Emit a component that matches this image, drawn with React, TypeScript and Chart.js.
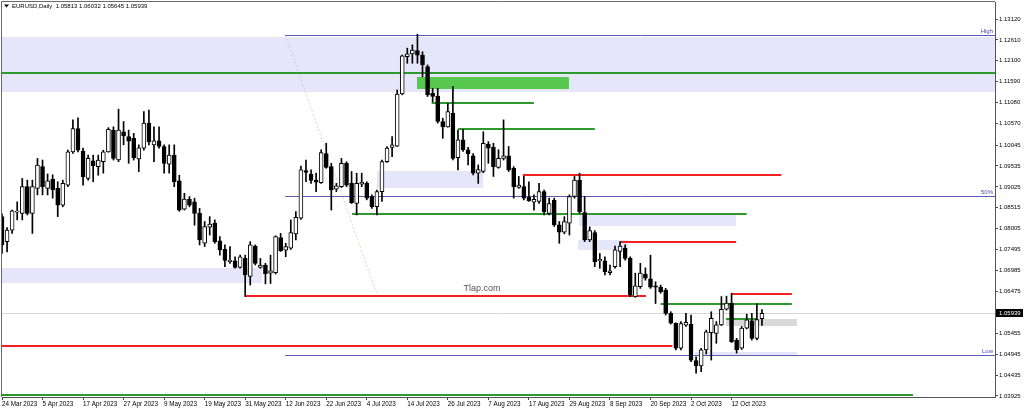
import React, { useEffect, useRef } from 'react';
import { Chart, registerables } from 'chart.js';

Chart.register(...registerables);

// ---- Daily EURUSD bars, 24 Mar 2023 .. 20 Oct 2023 (index 0..150) ----
const opens = [
  1.0830, 1.0769, 1.0797, 1.0841, 1.0838, 1.0903, 1.0838, 1.0899, 1.0952, 1.0899,
  1.0921, 1.0899, 1.0858, 1.0907, 1.0988, 1.1045, 1.0990, 1.0923, 1.0966, 1.0952,
  1.0964, 1.0988, 1.1041, 1.0968, 1.1037, 1.1025, 1.1021, 1.0971, 1.0997, 1.1058,
  1.1005, 1.1015, 1.1001, 1.0958, 1.0980, 1.0917, 1.0848, 1.0872, 1.0866, 1.0838,
  1.0765, 1.0804, 1.0814, 1.0771, 1.0750, 1.0720, 1.0722, 1.0706, 1.0728, 1.0684,
  1.0758, 1.0706, 1.0712, 1.0692, 1.0693, 1.0779, 1.0748, 1.0753, 1.0788, 1.0826,
  1.0942, 1.0934, 1.0919, 1.0913, 1.0984, 1.0952, 1.0897, 1.0903, 1.0960, 1.0911,
  1.0862, 1.0909, 1.0911, 1.0879, 1.0854, 1.0891, 1.0964, 1.0999, 1.1002, 1.1129,
  1.1220, 1.1227, 1.1235, 1.1224, 1.1196, 1.1131, 1.1124, 1.1062, 1.1049, 1.1082,
  1.0974, 1.1017, 1.0993, 1.0978, 1.0936, 1.0940, 1.1007, 1.0999, 1.0950, 1.0972,
  1.0978, 1.0948, 1.0901, 1.0903, 1.0877, 1.0865, 1.0867, 1.0891, 1.0838, 1.0870,
  1.0810, 1.0792, 1.0814, 1.0879, 1.0919, 1.0840, 1.0773, 1.0791, 1.0722, 1.0722,
  1.0693, 1.0708, 1.0745, 1.0753, 1.0728, 1.0635, 1.0659, 1.0690, 1.0678, 1.0661,
  1.0658, 1.0651, 1.0594, 1.0570, 1.0509, 1.0565, 1.0567, 1.0479, 1.0466, 1.0505,
  1.0547, 1.0545, 1.0566, 1.0604, 1.0619, 1.0529, 1.0509, 1.0558, 1.0576, 1.0533,
  1.05813,
];
const highs = [
  1.0837, 1.0803, 1.0846, 1.0866, 1.0923, 1.0919, 1.0919, 1.0972, 1.0968, 1.0934,
  1.0932, 1.0915, 1.0919, 1.0992, 1.1066, 1.1071, 1.0997, 1.0980, 1.0980, 1.0980,
  1.0992, 1.1047, 1.1049, 1.1092, 1.1062, 1.1041, 1.1033, 1.1005, 1.1086, 1.1090,
  1.1049, 1.1049, 1.1005, 1.1005, 1.1005, 1.0931, 1.0887, 1.0879, 1.0875, 1.0850,
  1.0818, 1.0830, 1.0822, 1.0781, 1.0761, 1.0757, 1.0732, 1.0736, 1.0736, 1.0769,
  1.0761, 1.0728, 1.0716, 1.0736, 1.0783, 1.0789, 1.0765, 1.0822, 1.0842, 1.0953,
  1.0968, 1.0944, 1.0936, 1.0993, 1.1009, 1.0960, 1.0911, 1.0972, 1.0964, 1.0940,
  1.0936, 1.0936, 1.0915, 1.0883, 1.0895, 1.0968, 1.1001, 1.1025, 1.1139, 1.1224,
  1.1241, 1.1249, 1.1275, 1.1232, 1.1200, 1.1143, 1.1143, 1.1070, 1.1106, 1.1147,
  1.1041, 1.1043, 1.0999, 1.0984, 1.0956, 1.1037, 1.1013, 1.1009, 1.0993, 1.1066,
  1.1001, 1.0952, 1.0928, 1.0928, 1.0915, 1.0883, 1.0911, 1.0895, 1.0875, 1.0875,
  1.0818, 1.0830, 1.0883, 1.0928, 1.0936, 1.0879, 1.0805, 1.0796, 1.0740, 1.0732,
  1.0712, 1.0758, 1.0769, 1.0761, 1.0732, 1.0692, 1.0716, 1.0705, 1.0736, 1.0671,
  1.0663, 1.0655, 1.0598, 1.0571, 1.0574, 1.0594, 1.0590, 1.0488, 1.0509, 1.0553,
  1.0598, 1.0574, 1.0635, 1.0636, 1.0643, 1.0533, 1.0562, 1.0592, 1.0594, 1.0617,
  1.06032,
];
const lows = [
  1.0740, 1.0744, 1.0789, 1.0822, 1.0822, 1.0834, 1.0789, 1.0883, 1.0883, 1.0883,
  1.0875, 1.0830, 1.0854, 1.0903, 1.0984, 1.0988, 1.0907, 1.0919, 1.0915, 1.0931,
  1.0936, 1.0987, 1.0968, 1.0964, 1.1005, 1.0960, 1.0968, 1.0940, 1.0992, 1.1005,
  1.0964, 1.0997, 1.0936, 1.0936, 1.0903, 1.0843, 1.0846, 1.0854, 1.0809, 1.0761,
  1.0757, 1.0785, 1.0765, 1.0736, 1.0708, 1.0716, 1.0704, 1.0704, 1.0635, 1.0663,
  1.0712, 1.0704, 1.0666, 1.0667, 1.0690, 1.0745, 1.0732, 1.0750, 1.0773, 1.0823,
  1.0915, 1.0911, 1.0891, 1.0911, 1.0948, 1.0846, 1.0891, 1.0901, 1.0903, 1.0862,
  1.0834, 1.0903, 1.0871, 1.0850, 1.0834, 1.0867, 1.0962, 1.0976, 1.1001, 1.1127,
  1.1204, 1.1204, 1.1204, 1.1171, 1.1123, 1.1110, 1.1058, 1.1021, 1.1048, 1.0968,
  1.0944, 1.0989, 1.0956, 1.0932, 1.0911, 1.0937, 1.0960, 1.0928, 1.0948, 1.0968,
  1.0940, 1.0875, 1.0899, 1.0871, 1.0867, 1.0846, 1.0862, 1.0834, 1.0834, 1.0806,
  1.0765, 1.0788, 1.0785, 1.0875, 1.0838, 1.0769, 1.0769, 1.0708, 1.0704, 1.0688,
  1.0688, 1.0704, 1.0708, 1.0724, 1.0635, 1.0633, 1.0655, 1.0675, 1.0655, 1.0618,
  1.0643, 1.0590, 1.0568, 1.0505, 1.0505, 1.0562, 1.0476, 1.0448, 1.0452, 1.0495,
  1.0480, 1.0521, 1.0564, 1.0602, 1.0523, 1.0497, 1.0506, 1.0556, 1.0529, 1.0529,
  1.05645,
];
const closes = [
  1.0761, 1.0797, 1.0844, 1.0843, 1.0903, 1.0838, 1.0903, 1.0956, 1.0903, 1.0917,
  1.0895, 1.0858, 1.0911, 1.0988, 1.1045, 1.0992, 1.0927, 1.0972, 1.0954, 1.0968,
  1.0988, 1.1043, 1.0972, 1.1041, 1.1027, 1.1014, 1.0974, 1.0998, 1.1058, 1.1013,
  1.1015, 1.1001, 1.0960, 1.0980, 1.0915, 1.0846, 1.0873, 1.0858, 1.0838, 1.0773,
  1.0806, 1.0812, 1.0769, 1.0749, 1.0723, 1.0724, 1.0706, 1.0732, 1.0688, 1.0761,
  1.0716, 1.0712, 1.0690, 1.0698, 1.0781, 1.0747, 1.0757, 1.0791, 1.0828, 1.0944,
  1.0938, 1.0918, 1.0914, 1.0986, 1.0950, 1.0895, 1.0905, 1.0960, 1.0907, 1.0864,
  1.0911, 1.0914, 1.0875, 1.0854, 1.0891, 1.0964, 1.0997, 1.1005, 1.1129, 1.1222,
  1.1227, 1.1236, 1.1224, 1.1200, 1.1127, 1.1123, 1.1062, 1.1049, 1.1086, 1.0972,
  1.1017, 1.0993, 1.0983, 1.0936, 1.0945, 1.1009, 1.0997, 1.0952, 1.0972, 1.0978,
  1.0944, 1.0903, 1.0907, 1.0875, 1.0869, 1.0872, 1.0891, 1.0842, 1.0862, 1.0810,
  1.0792, 1.0818, 1.0879, 1.0919, 1.0842, 1.0773, 1.0796, 1.0720, 1.0726, 1.0696,
  1.0698, 1.0749, 1.0758, 1.0728, 1.0639, 1.0661, 1.0692, 1.0680, 1.0658, 1.0658,
  1.0647, 1.0594, 1.0570, 1.0509, 1.0569, 1.0572, 1.0480, 1.0466, 1.0505, 1.0549,
  1.0582, 1.0566, 1.0604, 1.0619, 1.0525, 1.0505, 1.0558, 1.0578, 1.0533, 1.0579,
  1.05939,
];

// ---- axes ----
const dateTickBars = [0, 8, 16, 24, 32, 40, 48, 56, 64, 72, 80, 88, 96, 104, 112, 120, 128, 136, 144];
const dateLabels = [
  '24 Mar 2023', '5 Apr 2023', '17 Apr 2023', '27 Apr 2023', '9 May 2023', '19 May 2023',
  '31 May 2023', '12 Jun 2023', '22 Jun 2023', '4 Jul 2023', '14 Jul 2023', '26 Jul 2023',
  '7 Aug 2023', '17 Aug 2023', '29 Aug 2023', '8 Sep 2023', '20 Sep 2023', '2 Oct 2023',
  '12 Oct 2023',
];
const priceTicks = [
  1.1312, 1.1261, 1.121, 1.1159, 1.1108, 1.1057, 1.10045, 1.09535, 1.09025, 1.08515,
  1.08005, 1.07495, 1.06985, 1.06475, 1.05455, 1.04945, 1.04435, 1.03925,
];
const lastPrice = 1.05939;
const headerText = 'EURUSD,Daily  1.05813 1.06032 1.05645 1.05939';
const watermark = 'Tlap.com';

// ---- drawn objects: [fromBar, toBar, upperPrice, lowerPrice] ----
const lavenderZones = [
  [-1, 197, 1.1268, 1.1135],
  [-1, 51.3, 1.0705, 1.0667],
  [74, 95, 1.0942, 1.0901],
  [113.9, 144.9, 1.0834, 1.0807],
  [113.7, 123.6, 1.0773, 1.0749],
  [136.8, 156.9, 1.05, 1.0492],
];
const grayZones = [[142.9, 156.9, 1.0581, 1.0562]];
const greenZones = [[81.9, 111.9, 1.1171, 1.1141]];
// [fromBar, toBar, price]
const greenLines = [
  [-1, 197, 1.1181],
  [84.8, 105, 1.1106],
  [90, 117, 1.1044],
  [69.1, 147, 1.0836],
  [130, 155.9, 1.0616],
  [142.9, 149, 1.058],
  [-1, 179.8, 1.0396],
];
const redLines = [
  [102.8, 153.8, 1.0932],
  [122, 144.9, 1.0769],
  [48, 127.1, 1.0636],
  [-1, 132.3, 1.0514],
  [143.9, 155.9, 1.0641],
];
const fiboNames = ['High', '50%', 'Low'];
const fiboPrices = [1.1273, 1.088, 1.0492];
const fiboFromBar = 55.9;
const fiboDiagonal = [[55.9, 1.1273], [74.2, 1.0634]];

const X_MIN = 0;
const X_MAX = 196;
const Y_MAX = 1.13535;
const Y_MIN = 1.039;
const FONT = '"Liberation Sans", Arial, sans-serif';

const overlayPlugin = {
  id: 'mtOverlay',
  beforeDatasetsDraw(chart: any) {
    const { ctx, chartArea: a, scales } = chart;
    const px = (b: number) => scales.x.getPixelForValue(b);
    const py = (p: number) => scales.y.getPixelForValue(p);
    ctx.save();
    ctx.beginPath();
    ctx.rect(a.left, a.top, a.right - a.left, a.bottom - a.top);
    ctx.clip();
    const zone = (z: number[], color: string) => {
      const x1 = px(z[0]);
      const x2 = px(z[1]);
      const y1 = Math.round(py(z[2]));
      const y2 = Math.round(py(z[3]));
      ctx.fillStyle = color;
      ctx.fillRect(x1, y1, x2 - x1, Math.max(1, y2 - y1));
    };
    lavenderZones.forEach((z) => zone(z, '#e6e6fa'));
    grayZones.forEach((z) => zone(z, '#d9d9d9'));
    greenZones.forEach((z) => zone(z, '#57c84d'));

    const hline = (s: number, e: number, p: number, color: string, w: number) => {
      const y = Math.round(py(p)) + (w % 2 === 1 ? 0.5 : 0);
      ctx.strokeStyle = color;
      ctx.lineWidth = w;
      ctx.beginPath();
      ctx.moveTo(px(s), y);
      ctx.lineTo(px(e), y);
      ctx.stroke();
    };
    hline(-1, 197, lastPrice, '#d6d6d6', 1);

    // fibo diagonal
    ctx.save();
    ctx.setLineDash([2, 2]);
    ctx.strokeStyle = 'rgba(240,150,150,0.55)';
    ctx.lineWidth = 1;
    ctx.beginPath();
    ctx.moveTo(px(fiboDiagonal[0][0]), py(fiboDiagonal[0][1]));
    ctx.lineTo(px(fiboDiagonal[1][0]), py(fiboDiagonal[1][1]));
    ctx.stroke();
    ctx.restore();

    fiboPrices.forEach((p) => hline(fiboFromBar, 197, p, '#5c5cb4', 1));
    greenLines.forEach((l) => hline(l[0], l[1], l[2], '#2e9a2e', 2));
    redLines.forEach((l) => hline(l[0], l[1], l[2], '#f22020', 2));
    ctx.restore();
  },
  afterDraw(chart: any) {
    const { ctx, chartArea: a, scales } = chart;
    const py = (p: number) => scales.y.getPixelForValue(p);
    ctx.save();
    // frame
    ctx.strokeStyle = '#6a6a6a';
    ctx.lineWidth = 1;
    ctx.beginPath();
    ctx.moveTo(a.left - 0.5, a.bottom);
    ctx.lineTo(a.left - 0.5, a.top - 0.5);
    ctx.lineTo(a.right, a.top - 0.5);
    ctx.stroke();

    // header
    ctx.fillStyle = '#000';
    ctx.beginPath();
    ctx.moveTo(4, 4.5);
    ctx.lineTo(9, 4.5);
    ctx.lineTo(6.5, 7.5);
    ctx.closePath();
    ctx.fill();
    ctx.font = `6px ${FONT}`;
    ctx.textBaseline = 'middle';
    ctx.textAlign = 'left';
    ctx.fillText(headerText, 12, 6.5);

    // watermark
    ctx.font = `9px ${FONT}`;
    ctx.fillStyle = '#555';
    ctx.textAlign = 'center';
    ctx.fillText(watermark, 482, 289);

    // fibo labels
    ctx.font = `6px ${FONT}`;
    ctx.fillStyle = '#4b4bb0';
    ctx.textAlign = 'right';
    ctx.textBaseline = 'bottom';
    fiboPrices.forEach((p, i) => {
      ctx.fillText(fiboNames[i], a.right - 2, Math.round(py(p)) - 0.5);
    });

    // current price box
    const y = Math.round(py(lastPrice));
    ctx.fillStyle = '#000';
    ctx.fillRect(a.right + 1, y - 4, 27, 8);
    ctx.fillStyle = '#fff';
    ctx.textAlign = 'left';
    ctx.textBaseline = 'middle';
    ctx.fillText(lastPrice.toFixed(5), a.right + 4, y + 0.5);
    ctx.restore();
  },
};

export default function App() {
  const ref = useRef<HTMLCanvasElement>(null);
  useEffect(() => {
    document.body.style.margin = '0';
    const idx = closes.map((_, i) => i);
    const bodies = idx.map((i) => ({ x: i, y: [opens[i], closes[i]] }));
    const wicks = idx.map((i) => ({ x: i, y: [lows[i], highs[i]] }));
    const bodyColors = idx.map((i) => (closes[i] >= opens[i] ? '#ffffff' : '#000000'));
    const chart = new Chart(ref.current as HTMLCanvasElement, {
      type: 'bar',
      data: {
        datasets: [
          {
            label: 'body',
            data: bodies as any,
            backgroundColor: bodyColors,
            borderColor: '#000',
            borderWidth: 1,
            borderSkipped: false,
            barThickness: 4,
            minBarLength: 1,
            grouped: false,
            order: 0,
          } as any,
          {
            label: 'wick',
            data: wicks as any,
            backgroundColor: '#000',
            borderWidth: 0,
            barThickness: 1,
            grouped: false,
            order: 1,
          } as any,
        ],
      },
      options: {
        responsive: false,
        animation: false,
        devicePixelRatio: 1,
        events: [],
        layout: { padding: { left: 2, top: 2, right: 0, bottom: 0 } },
        plugins: { legend: { display: false }, tooltip: { enabled: false }, title: { display: false } },
        scales: {
          x: {
            type: 'linear',
            min: X_MIN,
            max: X_MAX,
            offset: false,
            afterBuildTicks: (s: any) => {
              s.ticks = dateTickBars.map((v) => ({ value: v }));
            },
            afterFit: (s: any) => {
              s.height = 14;
              s.paddingLeft = 0;
              s.paddingRight = 0;
            },
            ticks: {
              autoSkip: false,
              maxRotation: 0,
              align: 'start',
              padding: 0,
              color: '#000',
              font: { family: FONT, size: 6.3 },
              callback: (v: any) => dateLabels[dateTickBars.indexOf(Number(v))] ?? '',
            },
            grid: { drawOnChartArea: false, offset: false, tickLength: 3, color: '#444' },
            border: { color: '#555' },
          },
          y: {
            type: 'linear',
            position: 'right',
            min: Y_MIN,
            max: Y_MAX,
            afterBuildTicks: (s: any) => {
              s.ticks = priceTicks.map((v) => ({ value: v }));
            },
            afterFit: (s: any) => {
              s.width = 29;
              s.paddingTop = 0;
              s.paddingBottom = 0;
            },
            ticks: {
              autoSkip: false,
              padding: 1,
              color: '#000',
              font: { family: FONT, size: 6 },
              callback: (v: any) => Number(v).toFixed(5),
            },
            grid: { drawOnChartArea: false, tickLength: 3, color: '#444' },
            border: { color: '#555' },
          },
        },
      } as any,
      plugins: [overlayPlugin],
    });
    return () => chart.destroy();
  }, []);
  return (
    <div style={{ width: 1024, height: 411, background: '#fff' }}>
      <canvas ref={ref} width={1024} height={411} style={{ display: 'block' }} />
    </div>
  );
}
